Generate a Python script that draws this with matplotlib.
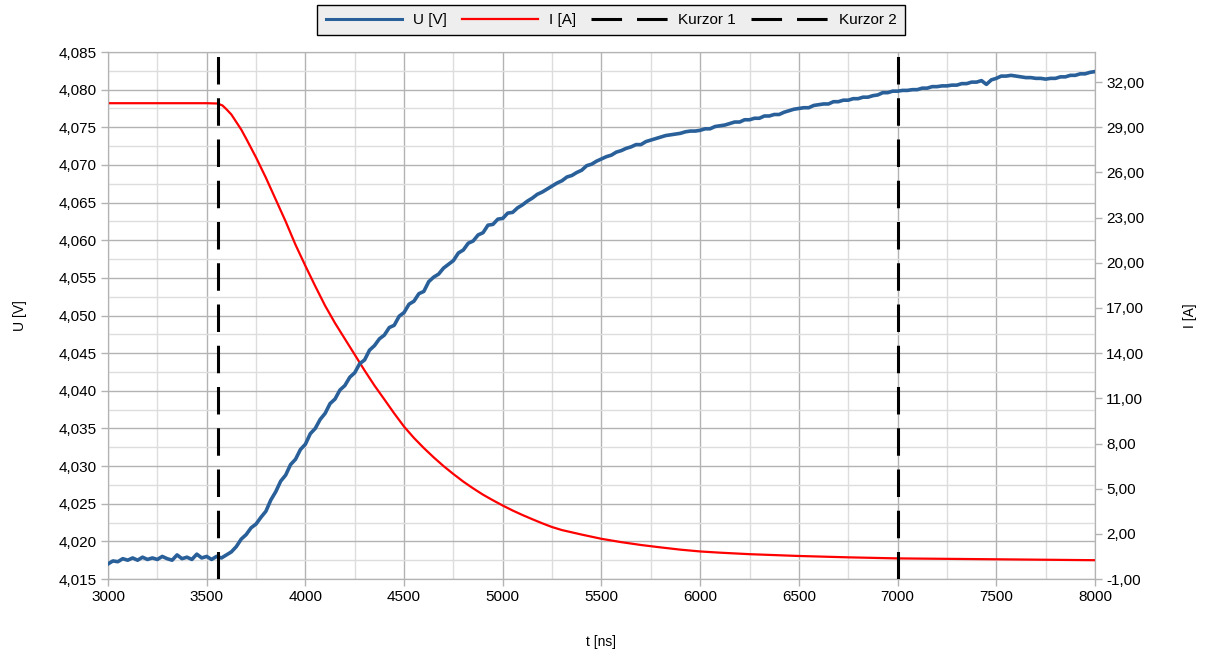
import numpy as np
import matplotlib
matplotlib.use('Agg')
import matplotlib.pyplot as plt
from matplotlib.ticker import MultipleLocator, FuncFormatter
from matplotlib.lines import Line2D

plt.rcParams['font.family'] = ['Liberation Sans', 'DejaVu Sans']

# --- data ---
# U [V], sampled every 25 ns from 3000 to 8000 ns
t_u = np.arange(3000, 8001, 25)
u_v = [
    4.0170, 4.0174, 4.0173, 4.0177, 4.0175, 4.0178, 4.0175, 4.0179, 4.0176, 4.0178,
    4.0176, 4.0180, 4.0177, 4.0175, 4.0182, 4.0177, 4.0179, 4.0176, 4.0183, 4.0178,
    4.0180, 4.0176, 4.0180, 4.0178, 4.0182, 4.0186, 4.0193, 4.0203, 4.0209, 4.0218,
    4.0223, 4.0232, 4.0240, 4.0255, 4.0266, 4.0280, 4.0288, 4.0302, 4.0309, 4.0322,
    4.0329, 4.0343, 4.0350, 4.0362, 4.0370, 4.0383, 4.0389, 4.0401, 4.0407, 4.0418,
    4.0424, 4.0436, 4.0441, 4.0454, 4.0460, 4.0469, 4.0474, 4.0484, 4.0487, 4.0499,
    4.0504, 4.0515, 4.0519, 4.0529, 4.0532, 4.0545, 4.0551, 4.0555, 4.0563, 4.0568,
    4.0573, 4.0583, 4.0587, 4.0596, 4.0599, 4.0607, 4.0610, 4.0620, 4.0621, 4.0628,
    4.0629, 4.0636, 4.0637, 4.0643, 4.0647, 4.0652, 4.0656, 4.0661, 4.0664, 4.0668,
    4.0672, 4.0676, 4.0679, 4.0684, 4.0686, 4.0690, 4.0693, 4.0699, 4.0701, 4.0705,
    4.0708, 4.0711, 4.0713, 4.0717, 4.0719, 4.0722, 4.0724, 4.0727, 4.0727, 4.0731,
    4.0733, 4.0735, 4.0737, 4.0739, 4.0740, 4.0741, 4.0742, 4.0744, 4.0745, 4.0745,
    4.0746, 4.0748, 4.0748, 4.0751, 4.0752, 4.0753, 4.0755, 4.0757, 4.0757, 4.0760,
    4.0760, 4.0762, 4.0762, 4.0765, 4.0765, 4.0767, 4.0767, 4.0770, 4.0772, 4.0774,
    4.0775, 4.0776, 4.0776, 4.0779, 4.0780, 4.0781, 4.0781, 4.0784, 4.0784, 4.0786,
    4.0786, 4.0788, 4.0788, 4.0790, 4.0790, 4.0792, 4.0793, 4.0796, 4.0796, 4.0798,
    4.0798, 4.0799, 4.0799, 4.0800, 4.0800, 4.0802, 4.0802, 4.0804, 4.0804, 4.0805,
    4.0805, 4.0806, 4.0806, 4.0808, 4.0808, 4.0810, 4.0810, 4.0812, 4.0807, 4.0813,
    4.0815, 4.0818, 4.0818, 4.0819, 4.0818, 4.0817, 4.0816, 4.0816, 4.0815, 4.0815,
    4.0814, 4.0815, 4.0815, 4.0817, 4.0817, 4.0819, 4.0819, 4.0821, 4.0821, 4.0823,
    4.0824,
]

# I [A]
t_i = [3000, 3500, 3555, 3580, 3600, 3625, 3650, 3675, 3700, 3750, 3800, 3850,
       3900, 3950, 4000, 4050, 4100, 4150, 4200, 4250, 4300, 4350, 4400, 4450,
       4500, 4550, 4600, 4650, 4700, 4750, 4800, 4850, 4900, 4950, 5000, 5050,
       5100, 5150, 5200, 5250, 5300, 5400, 5500, 5600, 5700, 5800, 5900, 6000,
       6100, 6250, 6500, 6750, 7000, 7250, 7500, 7750, 8000]
i_a = [30.60, 30.60, 30.58, 30.45, 30.20, 29.85, 29.35, 28.85, 28.25, 27.00, 25.65, 24.20,
       22.75, 21.20, 19.80, 18.45, 17.15, 16.00, 14.95, 13.90, 12.85, 11.85, 10.93, 10.00,
       9.12, 8.37, 7.70, 7.08, 6.50, 5.97, 5.47, 5.02, 4.60, 4.23, 3.88, 3.55,
       3.25, 2.97, 2.70, 2.45, 2.25, 1.95, 1.67, 1.45, 1.26, 1.10, 0.95, 0.83,
       0.75, 0.65, 0.53, 0.44, 0.37, 0.34, 0.31, 0.28, 0.25]

cursors = [3555, 7000]
cursor_names = ['Kurzor 1', 'Kurzor 2']

# --- figure ---
fig = plt.figure(figsize=(12.05, 6.55), dpi=100)
ax = fig.add_axes([0.0896, 0.116, 0.8191, 0.8046])
ax2 = ax.twinx()

grid_major = '#b3b3b3'
grid_minor = '#dddddd'
fs = 11

ax.set_xlim(3000, 8000)
ax.set_ylim(4.015, 4.085)
ax2.set_ylim(-1, 34)

ax.xaxis.set_major_locator(MultipleLocator(500))
ax.xaxis.set_minor_locator(MultipleLocator(250))
ax.yaxis.set_major_locator(MultipleLocator(0.005))
ax.yaxis.set_minor_locator(MultipleLocator(0.0025))
ax2.set_yticks(np.arange(-1, 33, 3))

ax.yaxis.set_major_formatter(FuncFormatter(lambda v, p: f'{v:.3f}'.replace('.', ',')))
ax2.yaxis.set_major_formatter(FuncFormatter(lambda v, p: f'{v:.2f}'.replace('.', ',')))
ax.xaxis.set_major_formatter(FuncFormatter(lambda v, p: f'{v:.0f}'))

ax.grid(which='major', color=grid_major, lw=1.0)
ax.grid(which='minor', color=grid_minor, lw=1.0)
ax.set_axisbelow(True)

for a in (ax, ax2):
    for s in a.spines.values():
        s.set_color(grid_major)
    a.tick_params(which='major', length=5, width=1, color=grid_major,
                  labelsize=fs, labelcolor='black', pad=3)
    a.tick_params(which='minor', length=0)

# red on the right axis, blue on top of it using the left axis scale
ax2.plot(t_i, i_a, color='#ff0000', lw=1.6, zorder=2)
ax2.plot(t_u, u_v, color='#2a6099', lw=2.6, zorder=3, transform=ax.transData)
for c in cursors:
    ax2.axvline(c, color='black', lw=2.2, dashes=(9, 4.5), zorder=4)

ax.set_ylabel('U [V]', fontsize=10, labelpad=23)
ax2.set_ylabel('I [A]', fontsize=10, labelpad=28)
ax.set_xlabel('t [ns]', fontsize=10, labelpad=22)

handles = [
    Line2D([], [], color='#2a6099', lw=2.2),
    Line2D([], [], color='#ff0000', lw=1.6),
    Line2D([], [], color='black', lw=2.2, dashes=(10, 4.9)),
    Line2D([], [], color='black', lw=2.2, dashes=(10, 4.9)),
]
labels = ['U [V]', 'I [A]'] + cursor_names
leg = fig.legend(handles, labels, loc='center', bbox_to_anchor=(0.507, 0.9695),
                 ncol=4, fontsize=fs, frameon=True, fancybox=False,
                 handlelength=5.0, handletextpad=0.7, columnspacing=1.0,
                 borderpad=0.55, borderaxespad=0)
leg.get_frame().set_facecolor('#eeeeee')
leg.get_frame().set_edgecolor('black')
leg.get_frame().set_linewidth(1.0)
leg.get_frame().set_alpha(1)

fig.savefig('out.png', dpi=100)
